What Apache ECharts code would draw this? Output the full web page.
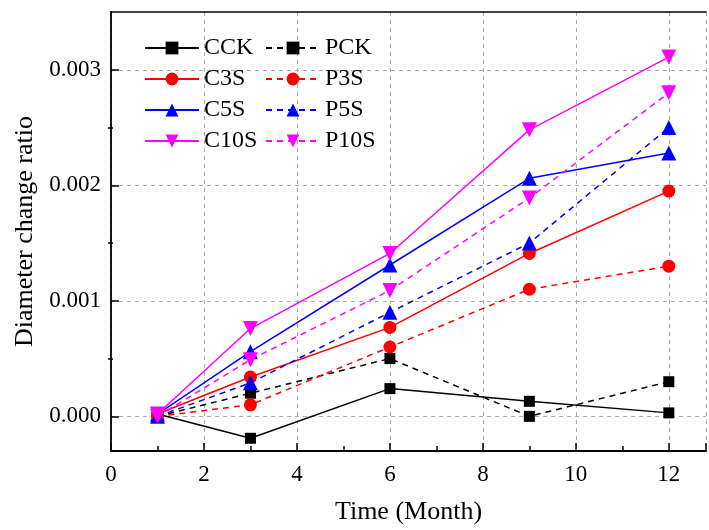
<!DOCTYPE html>
<html>
<head>
<meta charset="utf-8">
<script src="https://cdn.jsdelivr.net/npm/echarts@6/dist/echarts.min.js"></script>
<style>
html, body { margin: 0; padding: 0; background: #fff; }
#chart { width: 709px; height: 530px; }
</style>
</head>
<body>
<div id="chart"></div>
<script>
// values
var months = [1, 3, 6, 9, 12];
var CCK  = [0.00002, -0.00019, 0.00024, 0.00013, 0.00003];
var C3S  = [0.00002, 0.00034, 0.00077, 0.00141, 0.00195];
var C5S  = [0.00002, 0.00056, 0.00131, 0.00206, 0.00228];
var C10S = [0.00002, 0.00076, 0.00141, 0.00248, 0.00311];
var PCK  = [0, 0.0002, 0.0005, 0, 0.0003];
var P3S  = [0, 0.0001, 0.0006, 0.0011, 0.0013];
var P5S  = [0, 0.00029, 0.0009, 0.0015, 0.0025];
var P10S = [0, 0.00049, 0.00109, 0.00189, 0.0028];
var yTicks = [0, 0.001, 0.002, 0.003];
var yMinorTicks = [0.0005, 0.0015, 0.0025];

var font = "Liberation Serif";

function pairs(ys) {
  var out = [];
  for (var i = 0; i < months.length; i++) out.push([months[i], ys[i]]);
  return out;
}

function line(name, ys, color, symbol, size, dashed, rotate) {
  return {
    name: name,
    type: "line",
    data: pairs(ys),
    symbol: symbol,
    symbolSize: size,
    symbolRotate: rotate || 0,
    showAllSymbol: true,
    itemStyle: { color: color },
    lineStyle: { color: color, width: 1.5, type: dashed ? [6, 5] : "solid" },
    z: 3
  };
}

var chart = echarts.init(document.getElementById("chart"));
var legendText = { fontFamily: font, fontSize: 24, color: "#000" };
var plotWidth = 709 - 111;

var option = {
  animation: false,
  grid: { left: 111, right: 0, top: 12, bottom: 72 },
  legend: [
    {
      data: ["CCK", "C3S", "C5S", "C10S"],
      orient: "vertical", left: 144, top: 36, padding: 0,
      itemWidth: 54, itemHeight: 16, itemGap: 7,
      textStyle: legendText
    },
    {
      data: ["PCK", "P3S", "P5S", "P10S"],
      orient: "vertical", left: 265, top: 36, padding: 0,
      itemWidth: 54, itemHeight: 16, itemGap: 7,
      textStyle: legendText
    }
  ],
  xAxis: [
    {
      type: "value",
      min: 0, max: 12.8, interval: 2,
      name: "Time (Month)",
      nameLocation: "middle",
      nameGap: 48,
      nameTextStyle: { fontFamily: font, fontSize: 26, color: "#000" },
      axisLine: { onZero: false, lineStyle: { color: "#000", width: 2 } },
      axisTick: { inside: true, length: 8, lineStyle: { color: "#000", width: 1.5 } },
      minorTick: { show: true, splitNumber: 2, length: 5, lineStyle: { color: "#000", width: 1.5 } },
      axisLabel: {
        fontFamily: font, fontSize: 23, color: "#000", margin: 12,
        formatter: function (v) { return v > 12 ? "" : String(v); }
      },
      splitLine: { show: true, lineStyle: { color: "#aaa", type: [4, 4], width: 1 } }
    },
    {
      // top frame line only
      type: "value",
      position: "top",
      min: 0, max: 12.8,
      axisLine: { show: true, onZero: false, lineStyle: { color: "#000", width: 1.5 } },
      axisTick: { show: false },
      axisLabel: { show: false },
      splitLine: { show: false }
    }
  ],
  yAxis: [
    {
      type: "value",
      position: "left",
      min: -0.0003, max: 0.0035,
      name: "Diameter change ratio",
      nameLocation: "middle",
      nameGap: 70,
      nameTextStyle: { fontFamily: font, fontSize: 26, color: "#000" },
      axisLine: { show: true, onZero: false, lineStyle: { color: "#000", width: 1.8 } },
      axisTick: { show: true, inside: true, length: 8, customValues: yTicks, lineStyle: { color: "#000", width: 1.5 } },
      axisLabel: {
        fontFamily: font, fontSize: 23, color: "#000", margin: 10,
        customValues: yTicks,
        formatter: function (v) { return v.toFixed(3); }
      },
      splitLine: { show: true, lineStyle: { color: "#aaa", type: [4, 4], width: 1 } }
    },
    {
      // minor ticks on the left edge: a right axis pulled over to the left
      type: "value",
      position: "right",
      offset: -plotWidth,
      min: -0.0003, max: 0.0035,
      axisLine: { show: false, onZero: false },
      axisTick: { show: true, inside: false, length: 5, customValues: yMinorTicks, lineStyle: { color: "#000", width: 1.5 } },
      axisLabel: { show: false },
      splitLine: { show: false }
    }
  ],
  series: [
    line("CCK", CCK, "#000000", "rect", 11, false),
    line("C3S", C3S, "#ff0000", "circle", 13, false),
    line("C5S", C5S, "#0000ff", "triangle", 15, false),
    line("C10S", C10S, "#ff00ff", "triangle", 15, false, 180),
    line("PCK", PCK, "#000000", "rect", 11, true),
    line("P3S", P3S, "#ff0000", "circle", 13, true),
    line("P5S", P5S, "#0000ff", "triangle", 15, true),
    line("P10S", P10S, "#ff00ff", "triangle", 15, true, 180)
  ]
};

chart.setOption(option);
window.addEventListener("resize", function () { chart.resize(); });
</script>
</body>
</html>
